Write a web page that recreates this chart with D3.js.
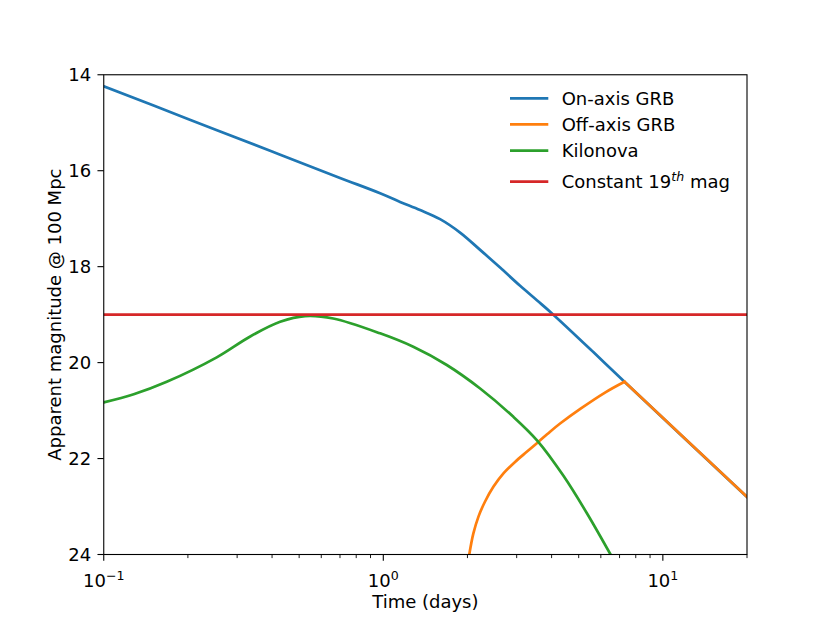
<!DOCTYPE html>
<html><head><meta charset="utf-8">
<script src="https://cdn.jsdelivr.net/npm/d3@7"></script>
<style>body{margin:0;background:#fff}svg{display:block}text{font-family:"DejaVu Sans",sans-serif;fill:#000}</style>
</head><body>
<script>
// ---- data (time in days, apparent magnitude) ----
const onAxisT   = [0.1, 0.2, 0.4, 0.7, 0.974, 1.148, 1.354, 1.596, 1.882, 2.22, 2.617, 3.086, 3.56, 4.04, 5.64, 7.29, 20];
const onAxisM   = [14.24, 14.92, 15.60, 16.15, 16.47, 16.65, 16.82, 17.01, 17.29, 17.65, 18.02, 18.40, 18.71, 18.99, 19.78, 20.40, 22.80];
// off-axis: rising branch up to the peak, then the decay branch that merges with the on-axis curve
const offRiseT  = [2.03, 2.10, 2.19, 2.31, 2.476, 2.69, 2.96, 3.26, 3.56, 3.95, 4.29, 5.08, 6.19, 7.29];
const offRiseM  = [24.0, 23.56, 23.21, 22.90, 22.59, 22.31, 22.07, 21.86, 21.67, 21.44, 21.27, 20.96, 20.63, 20.40];
const offDecayT = [7.29, 20];
const offDecayM = [20.40, 22.80];
const kiloT     = [0.1, 0.128, 0.168, 0.2536, 0.333, 0.4275, 0.525, 0.662, 0.974, 1.28, 1.687, 2.22, 2.92, 3.56, 4.41, 5.35, 6.5];
const kiloM     = [20.83, 20.66, 20.40, 19.89, 19.46, 19.15, 19.03, 19.08, 19.39, 19.67, 20.05, 20.54, 21.13, 21.63, 22.36, 23.14, 24.0];
const constT    = [0.1, 20];
const constM    = [19, 19];
const seriesNames = ["On-axis GRB", "Off-axis GRB", "Kilonova", "Constant 19"];
const seriesColors = ["#1f77b4", "#ff7f0e", "#2ca02c", "#d62728"];
const yTicks = [14, 16, 18, 20, 22, 24];
const xMajorTicks = [0.1, 1, 10];
const xMajorExp = ["\u22121", "0", "1"];

const W = 830, H = 623;
const m = {l: 103.75, r: 747, t: 74.76, b: 554.5};
const svg = d3.select("body").append("svg").attr("width", W).attr("height", H);

const x = d3.scaleLog().domain([0.1, 20]).range([m.l, m.r]);
const y = d3.scaleLinear().domain([14, 24]).range([m.t, m.b]);

svg.append("defs").append("clipPath").attr("id", "clip")
  .append("rect").attr("x", m.l).attr("y", m.t).attr("width", m.r - m.l).attr("height", m.b - m.t);

const line = d3.line().x(d => x(d[0])).y(d => y(d[1])).curve(d3.curveCatmullRom.alpha(0.5));
const paths = [
  {d: d3.zip(onAxisT, onAxisM), c: 0},
  {d: d3.zip(offRiseT, offRiseM), c: 1},
  {d: d3.zip(offDecayT, offDecayM), c: 1},
  {d: d3.zip(kiloT, kiloM), c: 2},
  {d: d3.zip(constT, constM), c: 3}
];
const g = svg.append("g").attr("clip-path", "url(#clip)");
paths.forEach(p => {
  g.append("path").attr("d", line(p.d)).attr("fill", "none")
    .attr("stroke", seriesColors[p.c]).attr("stroke-width", 2.7)
    .attr("stroke-linejoin", "miter").attr("stroke-linecap", "square");
});

// frame
svg.append("rect").attr("x", m.l).attr("y", m.t).attr("width", m.r - m.l).attr("height", m.b - m.t)
  .attr("fill", "none").attr("stroke", "#000").attr("stroke-width", 1.1);

// y axis
const ya = svg.append("g");
yTicks.forEach(v => {
  ya.append("line").attr("x1", m.l - 6.3).attr("x2", m.l).attr("y1", y(v)).attr("y2", y(v))
    .attr("stroke", "#000").attr("stroke-width", 1.1);
  ya.append("text").attr("x", m.l - 12.6).attr("y", y(v)).attr("dy", "0.36em")
    .attr("text-anchor", "end").attr("font-size", 18).text(v);
});

// x axis
const xa = svg.append("g");
const minor = [];
[0.1, 1, 10].forEach(dec => { for (let k = 2; k <= 9; k++) { const v = dec * k; if (v <= 20) minor.push(v); } });
minor.forEach(v => {
  xa.append("line").attr("x1", x(v)).attr("x2", x(v)).attr("y1", m.b).attr("y2", m.b + 3.6)
    .attr("stroke", "#000").attr("stroke-width", 0.9);
});
xMajorTicks.forEach((v, i) => {
  xa.append("line").attr("x1", x(v)).attr("x2", x(v)).attr("y1", m.b).attr("y2", m.b + 6.3)
    .attr("stroke", "#000").attr("stroke-width", 1.1);
  const t = xa.append("text").attr("x", x(v)).attr("y", 587).attr("text-anchor", "middle").attr("font-size", 18);
  t.append("tspan").text("10");
  t.append("tspan").attr("font-size", 12.6).attr("dy", -7).text(xMajorExp[i]);
});

svg.append("text").attr("x", (m.l + m.r) / 2).attr("y", 608).attr("text-anchor", "middle")
  .attr("font-size", 18).text("Time (days)");
svg.append("text").attr("transform", `translate(61,${(m.t + m.b) / 2}) rotate(-90)`)
  .attr("text-anchor", "middle").attr("font-size", 18).text("Apparent magnitude @ 100 Mpc");

// legend
const legY = [98.3, 124.3, 150.7, 181.7];
seriesNames.forEach((name, i) => {
  svg.append("line").attr("x1", 510).attr("x2", 548.3).attr("y1", legY[i]).attr("y2", legY[i])
    .attr("stroke", seriesColors[i]).attr("stroke-width", 2.7);
  const t = svg.append("text").attr("x", 561.7).attr("y", legY[i] + 6.6).attr("font-size", 18);
  t.append("tspan").text(name);
  if (i === 3) {
    t.append("tspan").attr("font-size", 12.6).attr("font-style", "italic").attr("dy", -7.5).text("th");
    t.append("tspan").attr("dy", 7.5).text(" mag");
  }
});
</script>
</body></html>
